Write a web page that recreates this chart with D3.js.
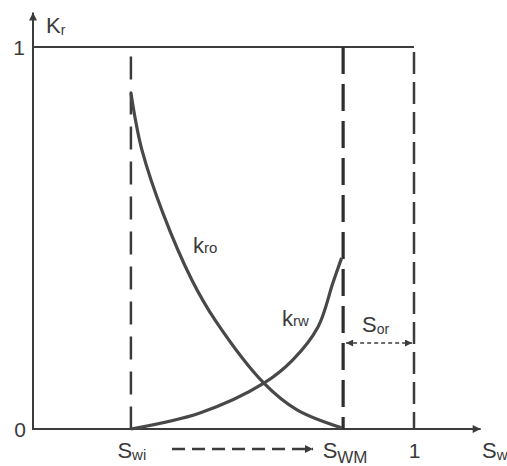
<!DOCTYPE html>
<html><head><meta charset="utf-8">
<script src="https://cdn.jsdelivr.net/npm/d3@7"></script>
<style>body{margin:0;background:#fff}svg{display:block}text{font-family:"Liberation Sans",Arial,sans-serif;fill:#3a3a3a}</style>
</head><body>
<svg id="c" width="507" height="466"></svg>
<script>
// Data
const swKro = [0.257, 0.268, 0.286, 0.341, 0.417, 0.478, 0.606, 0.693, 0.810];
const kro   = [0.880, 0.814, 0.730, 0.565, 0.390, 0.285, 0.120, 0.050, 0.003];
const swKrw = [0.257, 0.438, 0.606, 0.682, 0.748, 0.787, 0.810];
const krw   = [0.000, 0.042, 0.120, 0.181, 0.267, 0.382, 0.448];
const Swi = 0.257, SWM = 0.814, SwMax = 1;
const xTickVals = [Swi, SWM, SwMax];
const xTickMain = ["S", "S", "1"];
const xTickSub  = ["wi", "WM", ""];
const yTickVals = [0, 1];
const yTickLabels = ["0", "1"];

const svg = d3.select("#c");
const col = "#3c3c3c";
const x = d3.scaleLinear().domain([0, 1]).range([33, 414]);
const y = d3.scaleLinear().domain([0, 1]).range([429, 47]);

const defs = svg.append("defs");
defs.append("marker").attr("id","ah").attr("viewBox","0 0 10 10").attr("refX",10).attr("refY",5)
  .attr("markerWidth",12).attr("markerHeight",8).attr("markerUnits","userSpaceOnUse").attr("orient","auto")
  .append("path").attr("d","M0,0L10,5L0,10Z").attr("fill",col);
defs.append("marker").attr("id","as").attr("viewBox","0 0 10 10").attr("refX",10).attr("refY",5)
  .attr("markerWidth",10).attr("markerHeight",7).attr("markerUnits","userSpaceOnUse").attr("orient","auto-start-reverse")
  .append("path").attr("d","M0,0L10,5L0,10Z").attr("fill",col);

// axes lines
svg.append("line").attr("x1",x(0)).attr("x2",x(1.175)).attr("y1",y(0)).attr("y2",y(0))
  .attr("stroke",col).attr("stroke-width",2).attr("marker-end","url(#ah)");
svg.append("line").attr("x1",x(0)).attr("x2",x(0)).attr("y1",y(0)+1).attr("y2",y(1.09))
  .attr("stroke",col).attr("stroke-width",2).attr("marker-end","url(#ah)");
// top line kr = 1
svg.append("line").attr("x1",x(0)).attr("x2",x(1)).attr("y1",y(1)).attr("y2",y(1))
  .attr("stroke",col).attr("stroke-width",2);

// vertical dashed lines
svg.append("line").attr("x1",x(Swi)).attr("x2",x(Swi)).attr("y1",y(0.975)).attr("y2",y(0))
  .attr("stroke",col).attr("stroke-width",2.5).attr("stroke-dasharray","23,12");
svg.append("line").attr("x1",x(SWM)).attr("x2",x(SWM)).attr("y1",y(1)).attr("y2",y(0))
  .attr("stroke","#2e2e2e").attr("stroke-width",3.2).attr("stroke-dasharray","27,10");
svg.append("line").attr("x1",x(SwMax)).attr("x2",x(SwMax)).attr("y1",y(0.987)).attr("y2",y(0))
  .attr("stroke",col).attr("stroke-width",2.5).attr("stroke-dasharray","22,8");

// curves
const line = d3.line().x(d=>x(d[0])).y(d=>y(d[1])).curve(d3.curveCatmullRom.alpha(0.5));
svg.append("path").attr("d", line(d3.zip(swKro, kro))).attr("fill","none").attr("stroke","#484848").attr("stroke-width",3.2);
svg.append("path").attr("d", line(d3.zip(swKrw, krw))).attr("fill","none").attr("stroke","#484848").attr("stroke-width",3.2);

// helper for subscripted text
function sub(g, xx, yy, main, s, fs, ss, dy, anchor){
  const t = g.append("text").attr("x",xx).attr("y",yy).attr("font-size",fs).attr("text-anchor",anchor||"start");
  t.append("tspan").text(main);
  if (s) t.append("tspan").attr("font-size",ss).attr("dy",dy).text(s);
  return t;
}

// x axis tick labels via d3 axis
const xAxis = d3.axisBottom(x).tickValues(xTickVals).tickSize(0).tickFormat(()=>"");
const gx = svg.append("g").attr("transform",`translate(0,${y(0)})`).call(xAxis);
gx.select(".domain").remove();
gx.selectAll(".tick").each(function(d,i){
  const g = d3.select(this);
  g.selectAll("text").remove();
  if (i===0) sub(g, -14, 29, xTickMain[i], xTickSub[i], 22, 15, 2);
  else if (i===1) sub(g, -21, 29, xTickMain[i], xTickSub[i], 22, 17, 5);
  else g.append("text").attr("x",0).attr("y",29).attr("font-size",21).attr("text-anchor","middle").text(xTickMain[i]);
});
sub(svg, 482, y(0)+29, "S", "w", 22, 15, 2);

// y axis tick labels
const yAxis = d3.axisLeft(y).tickValues(yTickVals).tickSize(0).tickFormat(()=>"");
const gy = svg.append("g").attr("transform",`translate(${x(0)},0)`).call(yAxis);
gy.select(".domain").remove();
gy.selectAll(".tick").each(function(d,i){
  const g = d3.select(this);
  g.selectAll("text").remove();
  g.append("text").attr("x", i===0 ? -13 : -14).attr("y", 7).attr("font-size",21).attr("text-anchor","middle").text(yTickLabels[i]);
});
sub(svg, 46, 33, "K", "r", 22, 14, 2);

// curve labels
sub(svg, 193, 253, "k", "ro", 22, 15, 0);
sub(svg, 282, 326, "k", "rw", 22, 15, 0);

// Sor arrow
svg.append("line").attr("x1",x(SWM)+3).attr("x2",x(SwMax)-2).attr("y1",343).attr("y2",343)
  .attr("stroke",col).attr("stroke-width",1.6).attr("stroke-dasharray","4,3")
  .attr("marker-start","url(#as)").attr("marker-end","url(#as)");
sub(svg, 362, 332, "S", "or", 22, 14, 2);

// Swi -> SWM dashed arrow
svg.append("line").attr("x1",172).attr("x2",313).attr("y1",449).attr("y2",449)
  .attr("stroke",col).attr("stroke-width",2.5).attr("stroke-dasharray","13,7")
  .attr("marker-end","url(#ah)");
</script>
</body></html>
